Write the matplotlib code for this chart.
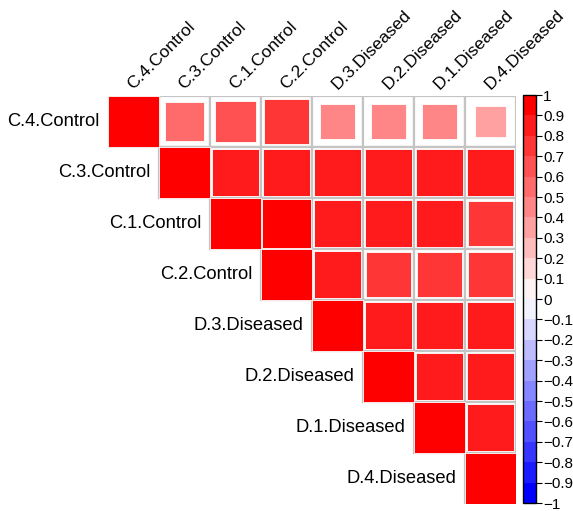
import numpy as np
import matplotlib
matplotlib.use("Agg")
import matplotlib.pyplot as plt
from matplotlib.colors import LinearSegmentedColormap, BoundaryNorm
from matplotlib.patches import Rectangle
from matplotlib.colorbar import ColorbarBase

plt.rcParams['font.family'] = ['Liberation Sans', 'DejaVu Sans']

# sample labels (same order for rows and columns)
labels = ['C.4.Control', 'C.3.Control', 'C.1.Control', 'C.2.Control',
          'D.3.Diseased', 'D.2.Diseased', 'D.1.Diseased', 'D.4.Diseased']

# upper triangle of the correlation matrix, one list per row (from the diagonal)
row_c4 = [1.00, 0.58, 0.66, 0.76, 0.45, 0.47, 0.46, 0.38]
row_c3 = [1.00, 0.88, 0.88, 0.88, 0.88, 0.88, 0.88]
row_c1 = [1.00, 0.95, 0.87, 0.86, 0.87, 0.78]
row_c2 = [1.00, 0.86, 0.78, 0.78, 0.79]
row_d3 = [1.00, 0.86, 0.87, 0.87]
row_d2 = [1.00, 0.87, 0.86]
row_d1 = [1.00, 0.87]
row_d4 = [1.00]
rows = [row_c4, row_c3, row_c1, row_c2, row_d3, row_d2, row_d1, row_d4]

n = len(labels)
W, H = 573, 511
fig = plt.figure(figsize=(W / 100, H / 100), dpi=100)

# grid area in pixels: x 108..516, y 96..504
gx0, gy0, gsz = 108, 96, 408
ax = fig.add_axes([gx0 / W, (H - gy0 - gsz) / H, gsz / W, gsz / H])
ax.set_xlim(0, n)
ax.set_ylim(n, 0)
ax.axis('off')

cmap = LinearSegmentedColormap.from_list('bwr20', ['blue', 'white', 'red'], N=20)
norm = BoundaryNorm(np.linspace(-1, 1, 21), 20)

for i, row in enumerate(rows):
    for k, r in enumerate(row):
        j = i + k
        ax.add_patch(Rectangle((j, i), 1, 1, facecolor='white',
                               edgecolor='#C4C4C4', linewidth=1.6, zorder=1))
        s = np.sqrt(abs(r))
        ax.add_patch(Rectangle((j + 0.5 - s / 2, i + 0.5 - s / 2), s, s,
                               facecolor=cmap(norm(r)), edgecolor='white',
                               linewidth=0.6, zorder=2))
    # row label to the left of the diagonal cell
    ax.text(i - 0.17, i + 0.5, labels[i], ha='right', va='center',
            fontsize=13.2, color='black', clip_on=False)

# column labels, rotated
for j, lab in enumerate(labels):
    ax.text(j + 0.5, -0.12, lab, ha='left', va='baseline', rotation=45,
            rotation_mode='anchor', fontsize=12.6, color='black', clip_on=False)

# colour legend
cax = fig.add_axes([523 / W, (H - 503) / H, 13 / W, 408 / H])
ticks = np.round(np.linspace(-1, 1, 21), 1)
cb = ColorbarBase(cax, cmap=cmap, norm=norm, boundaries=np.linspace(-1, 1, 21),
                  ticks=ticks)
cb.set_ticklabels(['0' if t == 0 else ('%g' % t).replace('-', '\u2212') for t in ticks])
cb.outline.set_linewidth(1.0)
cax.tick_params(labelsize=11, length=4, width=0.8, pad=1)

fig.savefig('out.png', dpi=100)
